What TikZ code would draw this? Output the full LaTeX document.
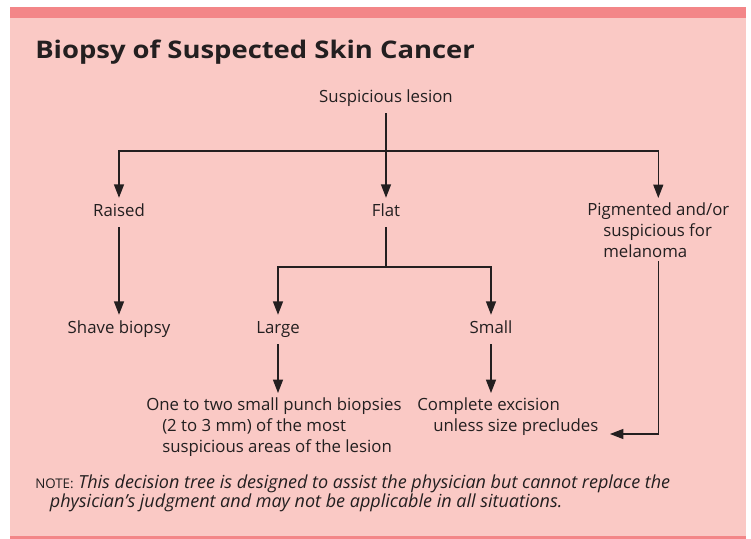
\documentclass[tikz,border=0pt]{standalone}
\usepackage{fontspec}
\setmainfont{Open Sans}
\newfontfamily\titlefnt[FakeStretch=1.13]{Open Sans}
\usetikzlibrary{arrows.meta}
\definecolor{barpink}{HTML}{F38688}
\definecolor{bgpink}{HTML}{FAC9C5}
\definecolor{ink}{HTML}{231F20}
\newcommand\bodyfnt{\fontsize{12.6}{15.75}\selectfont}
\begin{document}
\begin{tikzpicture}[x=0.75pt,y=-0.75pt,
  lbl/.style={font=\bodyfnt, text=ink, text height=10.5pt, text depth=5.25pt, inner sep=3pt, anchor=base},
  blk/.style={font=\bodyfnt, text=ink, align=left, inner xsep=0pt, inner ysep=3pt, anchor=north west},
  conn/.style={draw=ink, line width=0.9pt},
  arr/.style={conn, -{Triangle[length=10pt,width=7.5pt]}}]
\useasboundingbox (0,0) rectangle (751,539);
\fill[white] (0,0) rectangle (751,539);
\fill[bgpink] (10,7) rectangle (746,539);
\fill[barpink] (10,7) rectangle (746,18);
\fill[barpink] (10,536) rectangle (746,539);

\node[anchor=base west, inner sep=0pt, text=ink, font=\titlefnt\fontsize{18.2}{22}\selectfont\bfseries] (title) at (35,59) {Biopsy of Suspected Skin Cancer};

\node[lbl] (lesion) at (386,102) {Suspicious lesion};
\node[lbl] (raised) at (119,216) {Raised};
\node[lbl] (flat) at (386,216) {Flat};
\node[blk] (pig) at (587,198) {Pigmented and/or\\\hspace*{12pt}suspicious for\\\hspace*{12pt}melanoma};
\node[lbl] (shave) at (119,333) {Shave biopsy};
\node[lbl] (large) at (278,333) {Large};
\node[lbl] (small) at (491,333) {Small};
\node[blk] (punch) at (146,393) {One to two small punch biopsies\\\hspace*{12pt}(2 to 3 mm) of the most\\\hspace*{12pt}suspicious areas of the lesion};
\node[blk] (complete) at (417,393) {Complete excision\\\hspace*{12pt}unless size precludes};

\node[anchor=north west, align=left, inner sep=0pt, text=ink, font=\fontsize{13.5}{14.25}\selectfont] (note) at (35,475)
  {{\fontsize{10}{14.25}\selectfont NOTE:} \textit{This decision tree is designed to assist the physician but cannot replace the}\\
   \hspace*{11pt}\textit{physician’s judgment and may not be applicable in all situations.}};

\coordinate (top) at (386,151);
\coordinate (fj) at (386,267);
\coordinate (cend) at (610,434);

\draw[arr] (lesion) -- (flat);
\draw[arr] (top) -| (raised);
\draw[arr] (top) -| (pig);
\draw[arr] (raised) -- (shave);
\draw[conn] (flat) -- (fj);
\draw[arr] (fj) -| (large);
\draw[arr] (fj) -| (small);
\draw[arr] (large) -- (large |- punch.north);
\draw[arr] (small) -- (small |- complete.north);
\draw[arr] (pig.south) |- (cend);
\end{tikzpicture}
\end{document}
